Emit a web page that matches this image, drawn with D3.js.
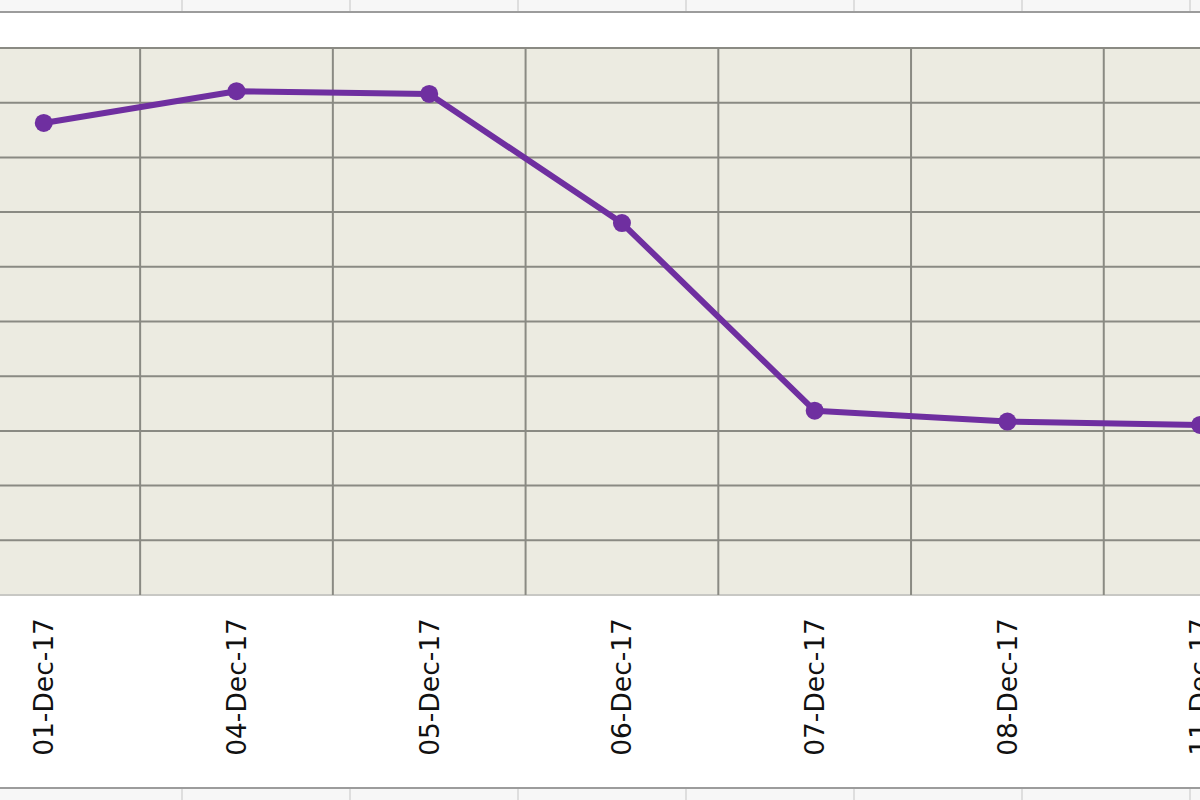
<!DOCTYPE html>
<html>
<head>
<meta charset="utf-8">
<script src="https://cdn.jsdelivr.net/npm/d3@7"></script>
<style>
  html, body { margin: 0; padding: 0; background: #ffffff; }
  svg { display: block; }
</style>
</head>
<body>
<svg id="chart" width="1200" height="800"></svg>
<script>
// data (no y axis labels are visible, units are grid steps)
const dates = ['01-Dec-17', '04-Dec-17', '05-Dec-17', '06-Dec-17', '07-Dec-17', '08-Dec-17', '11-Dec-17'];
const values = [8.63, 9.21, 9.16, 6.80, 3.37, 3.17, 3.11];
const yTicks = [0, 1, 2, 3, 4, 5, 6, 7, 8, 9, 10];

const svg = d3.select('#chart');
const W = 1200, H = 800;

// plot area (the chart is cropped: it runs past both side edges)
const plot = { left: -52.6, right: 1296.5, top: 48, bottom: 595 };

const x = d3.scaleBand()
    .domain(dates)
    .range([plot.left, plot.right])
    .padding(0);

const y = d3.scaleLinear()
    .domain([0, 10])
    .range([plot.bottom, plot.top]);

// spreadsheet cells peeking above and below the chart
const cellEdges = d3.range(182, W, 168);
function cellStrip(y0, y1, lineY) {
    svg.append('rect')
        .attr('x', 0).attr('y', y0)
        .attr('width', W).attr('height', y1 - y0)
        .attr('fill', '#f7f7f7');
    svg.append('g')
        .selectAll('line')
        .data(cellEdges)
        .enter()
        .append('line')
        .attr('x1', d => d).attr('x2', d => d)
        .attr('y1', y0).attr('y2', y1)
        .attr('stroke', '#d6d6d6')
        .attr('stroke-width', 1.5);
    svg.append('line')
        .attr('x1', 0).attr('x2', W)
        .attr('y1', lineY).attr('y2', lineY)
        .attr('stroke', '#9c9c9c')
        .attr('stroke-width', 2);
}
cellStrip(0, 11, 12);
cellStrip(789, H, 788);

// plot background
svg.append('rect')
    .attr('x', plot.left).attr('y', plot.top)
    .attr('width', plot.right - plot.left)
    .attr('height', plot.bottom - plot.top)
    .attr('fill', '#ecebe1');

// horizontal gridlines
svg.append('g')
    .selectAll('line')
    .data(yTicks)
    .enter()
    .append('line')
    .attr('x1', plot.left).attr('x2', plot.right)
    .attr('y1', d => y(d)).attr('y2', d => y(d))
    .attr('stroke', d => d === 0 ? '#c8c8c4' : '#8a8a83')
    .attr('stroke-width', 2);

// vertical gridlines between categories
svg.append('g')
    .selectAll('line')
    .data(dates)
    .enter()
    .append('line')
    .attr('x1', d => x(d) + x.bandwidth()).attr('x2', d => x(d) + x.bandwidth())
    .attr('y1', plot.top).attr('y2', plot.bottom)
    .attr('stroke', '#8a8a83')
    .attr('stroke-width', 2);

// category labels
const xAxis = svg.append('g')
    .attr('transform', `translate(0, ${plot.bottom})`)
    .call(d3.axisBottom(x).tickSize(0).tickPadding(0));
xAxis.select('.domain').remove();
xAxis.selectAll('text')
    .attr('font-family', '"DejaVu Sans", Verdana, sans-serif')
    .attr('font-size', 26.5)
    .attr('fill', '#111')
    .attr('text-anchor', 'end')
    .attr('dy', '0.35em')
    .attr('transform', 'translate(0, 23) rotate(-90)')
    .attr('x', 0)
    .attr('y', 0);

// series
const pts = dates.map((d, i) => ({ date: d, value: values[i] }));
const line = d3.line()
    .x(d => x(d.date) + x.bandwidth() / 2)
    .y(d => y(d.value));

svg.append('path')
    .datum(pts)
    .attr('d', line)
    .attr('fill', 'none')
    .attr('stroke', '#6f2fa0')
    .attr('stroke-width', 6)
    .attr('stroke-linejoin', 'round');

svg.append('g')
    .selectAll('circle')
    .data(pts)
    .enter()
    .append('circle')
    .attr('cx', d => x(d.date) + x.bandwidth() / 2)
    .attr('cy', d => y(d.value))
    .attr('r', 9)
    .attr('fill', '#6f2fa0');
</script>
</body>
</html>
